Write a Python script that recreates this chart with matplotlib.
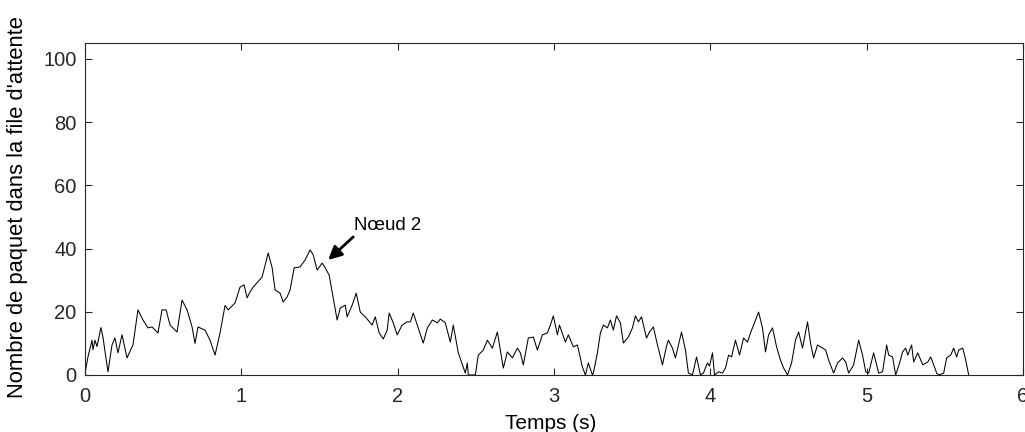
import matplotlib
matplotlib.use("Agg")
import matplotlib.pyplot as plt

plt.rcParams['font.family'] = ['Liberation Sans', 'DejaVu Sans']

time_s = [
    0.000, 0.019, 0.045, 0.051, 0.064, 0.077, 0.102, 0.115, 0.147, 0.173,
    0.192, 0.211, 0.237, 0.269, 0.307, 0.339, 0.371, 0.403, 0.429, 0.467,
    0.493, 0.519, 0.544, 0.589, 0.621, 0.653, 0.685, 0.704, 0.723, 0.768,
    0.800, 0.832, 0.864, 0.896, 0.916, 0.960, 0.992, 1.018, 1.037, 1.056,
    1.076, 1.133, 1.172, 1.197, 1.216, 1.248, 1.268, 1.293, 1.312, 1.338,
    1.376, 1.408, 1.440, 1.460, 1.485, 1.517, 1.537, 1.562, 1.613, 1.633,
    1.665, 1.677, 1.709, 1.735, 1.761, 1.793, 1.837, 1.857, 1.882, 1.908,
    1.933, 1.946, 1.972, 1.997, 2.029, 2.061, 2.081, 2.100, 2.132, 2.164,
    2.190, 2.222, 2.254, 2.273, 2.305, 2.337, 2.356, 2.388, 2.433, 2.446,
    2.452, 2.497, 2.516, 2.548, 2.574, 2.606, 2.638, 2.676, 2.702, 2.734,
    2.766, 2.785, 2.804, 2.836, 2.868, 2.894, 2.926, 2.958, 2.977, 2.996,
    3.022, 3.035, 3.073, 3.092, 3.124, 3.150, 3.182, 3.201, 3.220, 3.246,
    3.252, 3.278, 3.297, 3.316, 3.342, 3.361, 3.380, 3.400, 3.425, 3.444,
    3.476, 3.502, 3.521, 3.540, 3.560, 3.592, 3.611, 3.636, 3.662, 3.694,
    3.719, 3.732, 3.758, 3.777, 3.816, 3.841, 3.860, 3.886, 3.912, 3.937,
    3.956, 3.982, 3.995, 4.014, 4.027, 4.053, 4.078, 4.097, 4.117, 4.136,
    4.161, 4.187, 4.213, 4.238, 4.257, 4.277, 4.309, 4.334, 4.353, 4.373,
    4.398, 4.424, 4.449, 4.469, 4.494, 4.520, 4.545, 4.565, 4.590, 4.622,
    4.641, 4.661, 4.686, 4.706, 4.738, 4.757, 4.789, 4.814, 4.846, 4.866,
    4.885, 4.917, 4.949, 4.974, 4.994, 5.013, 5.045, 5.077, 5.102, 5.128,
    5.141, 5.166, 5.186, 5.211, 5.230, 5.250, 5.263, 5.288, 5.301, 5.327,
    5.359, 5.391, 5.410, 5.429, 5.448, 5.461, 5.493, 5.512, 5.538, 5.557,
    5.576, 5.589, 5.615, 5.634, 5.653,
]

queue_len = [
    0.5, 5.7, 11.0, 8.0, 11.0, 9.0, 15.0, 12.0, 1.0, 9.5,
    11.7, 7.0, 12.7, 5.4, 9.5, 20.6, 17.4, 14.9, 15.2, 13.3,
    20.6, 20.6, 15.8, 13.6, 23.7, 20.6, 15.2, 10.0, 15.2, 14.2,
    11.0, 6.3, 13.3, 22.0, 20.6, 22.8, 27.8, 28.5, 24.4, 26.3,
    27.8, 31.0, 38.6, 34.0, 26.9, 25.9, 23.1, 24.7, 26.9, 33.9,
    34.2, 36.4, 39.6, 38.0, 33.2, 35.4, 33.9, 31.6, 17.4, 21.2,
    22.1, 18.4, 22.1, 25.9, 19.9, 18.4, 15.8, 18.4, 13.3, 11.4,
    14.2, 19.6, 16.5, 12.7, 15.8, 16.8, 16.8, 19.6, 14.9, 10.1,
    14.9, 17.4, 16.5, 17.7, 16.5, 10.4, 15.8, 7.0, 0.6, 3.8,
    0.0, 0.0, 6.3, 7.9, 11.0, 8.5, 13.6, 2.2, 7.3, 5.4,
    8.5, 7.0, 3.2, 11.7, 12.0, 7.9, 12.7, 13.3, 15.8, 18.7,
    12.7, 15.8, 10.4, 12.7, 8.9, 9.5, 2.5, 0.0, 3.8, 0.0,
    0.6, 7.0, 13.3, 15.8, 14.9, 17.4, 14.2, 18.7, 16.5, 10.1,
    12.0, 14.9, 18.7, 16.8, 18.4, 11.7, 13.6, 15.2, 9.5, 3.2,
    8.9, 11.0, 8.5, 5.4, 13.6, 7.9, 0.6, 0.0, 5.7, 0.0,
    0.6, 3.8, 2.8, 7.0, 0.0, 1.0, 0.6, 2.2, 6.3, 5.7,
    11.0, 6.3, 11.7, 10.4, 13.3, 15.8, 19.9, 14.9, 7.3, 12.7,
    14.9, 8.9, 4.7, 2.2, 0.0, 3.8, 11.0, 13.6, 8.5, 16.8,
    10.1, 5.4, 9.5, 8.9, 7.9, 4.7, 0.6, 3.8, 5.4, 4.1,
    0.6, 3.2, 11.0, 6.3, 1.0, 0.6, 7.0, 0.6, 1.0, 9.5,
    6.3, 5.7, 0.0, 3.8, 7.3, 8.5, 6.3, 9.5, 4.1, 7.0,
    3.2, 4.1, 5.7, 3.2, 0.6, 0.0, 0.6, 5.4, 6.3, 8.5,
    5.7, 7.9, 8.5, 4.7, 0.0,
]

x_ticks = [0, 1, 2, 3, 4, 5, 6]
y_ticks = [0, 20, 40, 60, 80, 100]
annot_text = "Nœud 2"
arrow_tip = (1.556, 36.4)
arrow_tail = (1.716, 43.7)
annot_text_pos = (1.718, 45.9)

fig = plt.figure(figsize=(10.25, 4.32), dpi=100)
ax = fig.add_axes([0.0829, 0.132, 0.9151, 0.768])

ax.plot(time_s, queue_len, color='black', linewidth=0.75)

ax.set_xlim(0, 6)
ax.set_ylim(0, 105)
ax.set_xticks(x_ticks)
ax.set_yticks(y_ticks)
ax.tick_params(direction='in', top=True, right=True, length=5, width=0.8,
               labelsize=14.5, colors='#262626')
ax.tick_params(axis='x', pad=9)
ax.tick_params(axis='y', pad=6)
for sp in ax.spines.values():
    sp.set_color('#262626')
    sp.set_linewidth(0.8)

ax.set_xlabel("Temps (s)", fontsize=15, va='top')
ax.xaxis.set_label_coords(0.496, -0.119)
ax.set_ylabel("Nombre de paquet dans la file d'attente", fontsize=15.8)
ax.yaxis.set_label_coords(-0.061, 0.507)

ax.text(annot_text_pos[0], annot_text_pos[1], annot_text, fontsize=13.4,
        ha='left', va='baseline')
ax.annotate('', xy=arrow_tip, xytext=arrow_tail,
            arrowprops=dict(arrowstyle='-|>', color='black', lw=2.0,
                            mutation_scale=20, shrinkA=0, shrinkB=0))

fig.savefig("out.png", dpi=100)
